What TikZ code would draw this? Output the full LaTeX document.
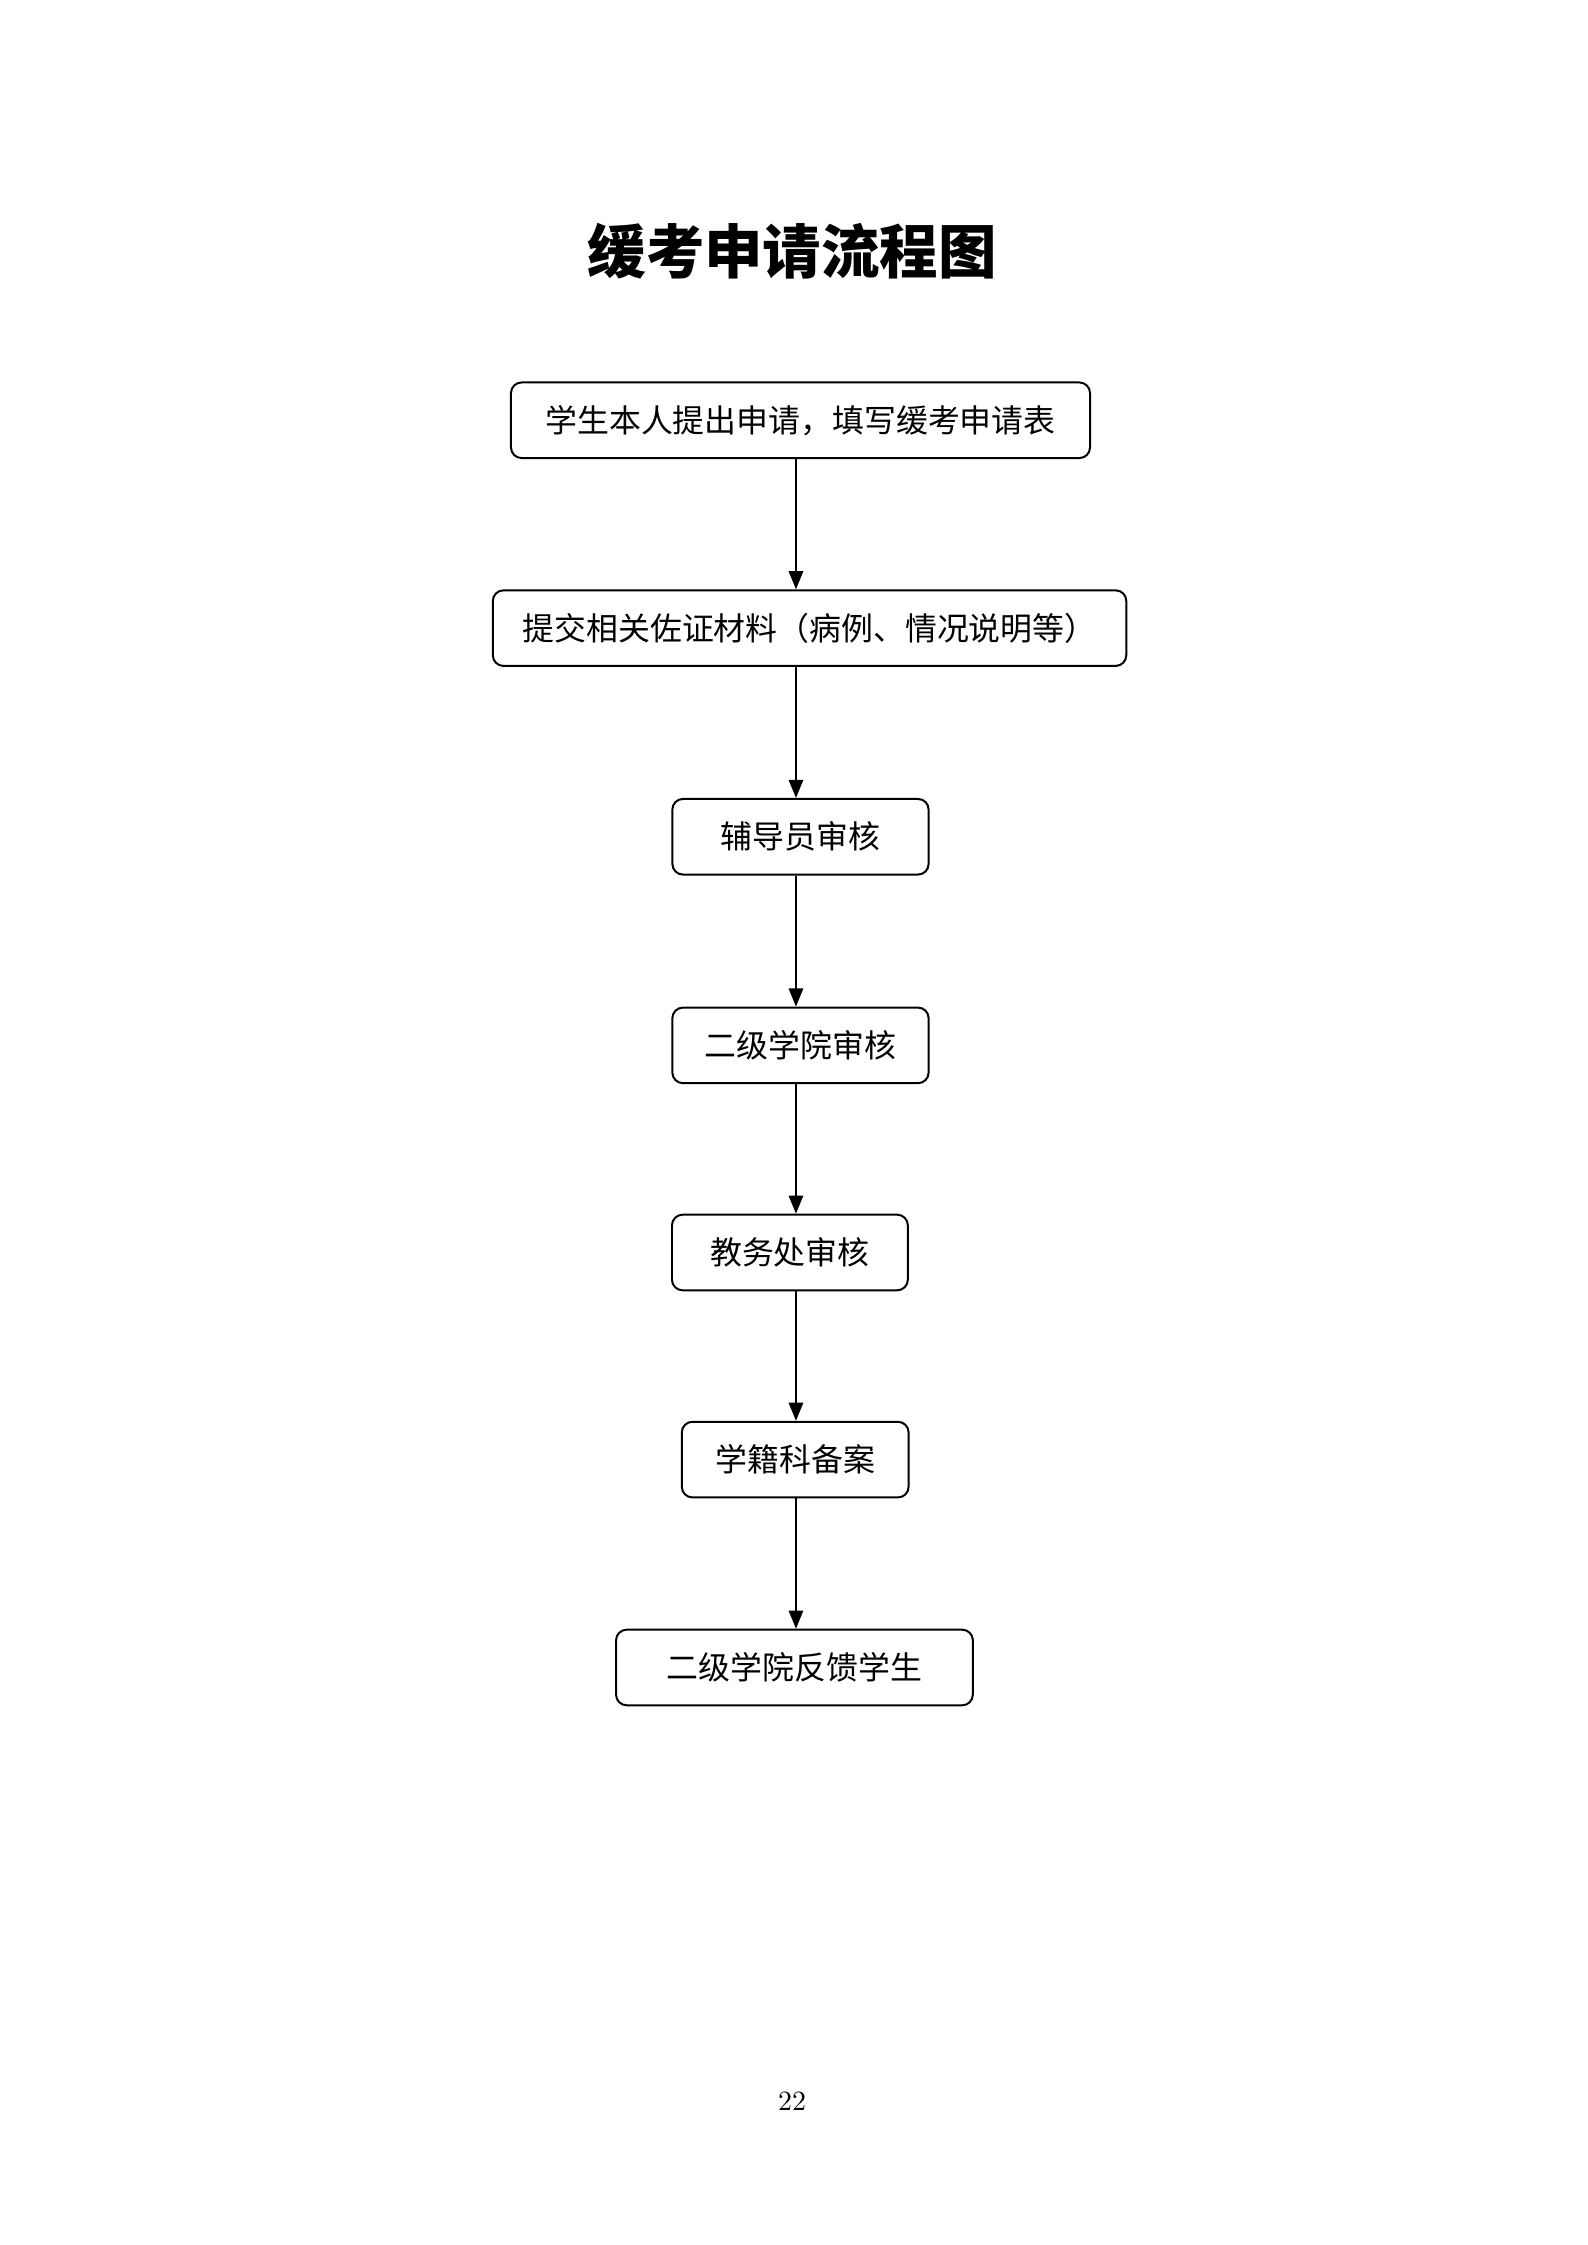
\documentclass[tikz,border=0pt]{standalone}
\usepackage{fontspec}
\usepackage{xcolor}
\usepackage{tikz}
\usetikzlibrary{arrows.meta}
\newfontfamily\cjk{Noto Sans CJK SC}
\definecolor{FlowLine}{HTML}{000000}

\begin{document}
\begin{tikzpicture}[x=1cm,y=1cm,
  flowbox/.style={draw=FlowLine,line width=0.75pt,rounded corners=0.14cm,
    minimum height=1.0cm,inner sep=0pt,align=center,font=\cjk\fontsize{12}{14}\selectfont},
  flowarrow/.style={draw=FlowLine,line width=0.75pt,-{Triangle[width=0.19cm,length=0.24cm]}}]
\path[use as bounding box] (0,0) rectangle (21.00,29.70);
\node[font=\cjk\bfseries\fontsize{22}{26}\selectfont] (title) at (10.48,26.38) {缓考申请流程图};
\coordinate (ax) at (10.53,0);
\node[flowbox,minimum width=7.66cm] (apply) at (10.59,24.14) {学生本人提出申请，填写缓考申请表};
\node[flowbox,minimum width=8.38cm] (proof) at (10.71,21.39) {提交相关佐证材料（病例、情况说明等）};
\node[flowbox,minimum width=3.39cm] (tutor) at (10.59,18.63) {辅导员审核};
\node[flowbox,minimum width=3.39cm] (college) at (10.59,15.87) {二级学院审核};
\node[flowbox,minimum width=3.12cm] (office) at (10.45,13.13) {教务处审核};
\node[flowbox,minimum width=3.00cm] (registry) at (10.52,10.39) {学籍科备案};
\node[flowbox,minimum width=4.72cm] (feedback) at (10.51,7.64) {二级学院反馈学生};
\draw[flowarrow] (apply.south -| ax) -- (proof.north -| ax);
\draw[flowarrow] (proof.south -| ax) -- (tutor.north -| ax);
\draw[flowarrow] (tutor.south -| ax) -- (college.north -| ax);
\draw[flowarrow] (college.south -| ax) -- (office.north -| ax);
\draw[flowarrow] (office.south -| ax) -- (registry.north -| ax);
\draw[flowarrow] (registry.south -| ax) -- (feedback.north -| ax);
\node[font=\fontsize{10.5}{12}\selectfont] (page) at (10.48,1.90) {22};
\end{tikzpicture}
\end{document}
